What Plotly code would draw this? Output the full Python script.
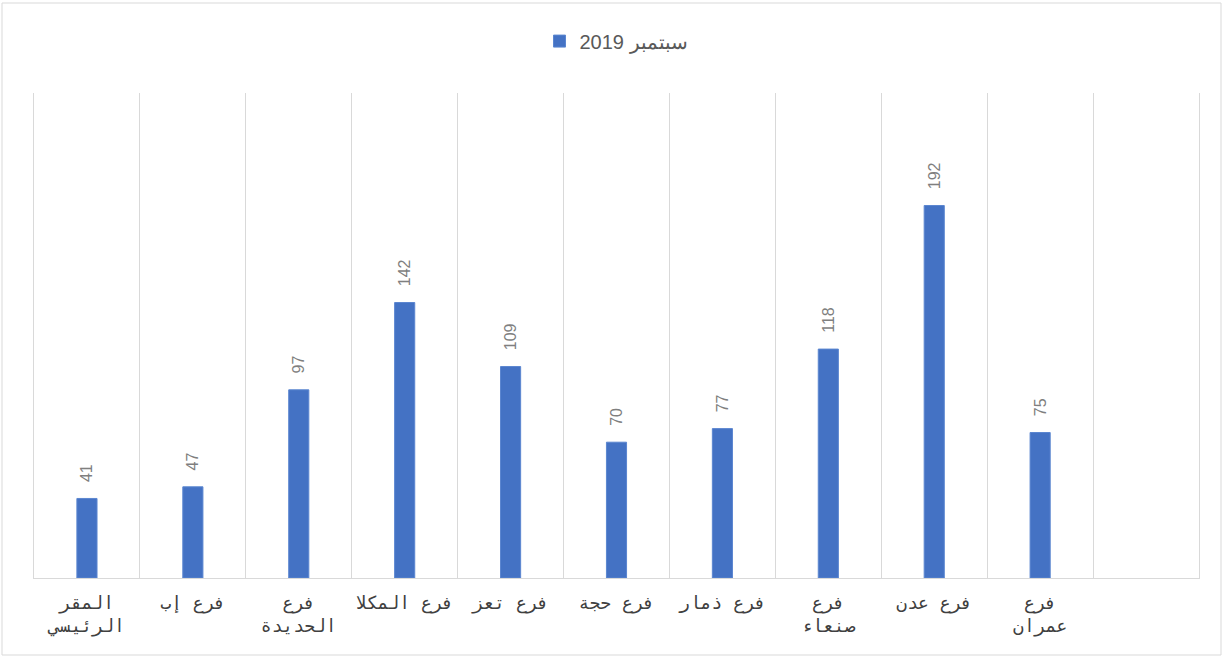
import plotly.graph_objects as go

categories = ["المقر<br>الرئيسي", "فرع إب", "فرع<br>الحديدة", "فرع المكلا", "فرع تعز",
              "فرع حجة", "فرع ذمار", "فرع<br>صنعاء", "فرع عدن", "فرع<br>عمران"]
values = [41, 47, 97, 142, 109, 70, 77, 118, 192, 75]
series_name = "2019 سبتمبر"
spacer = [" "]

fig = go.Figure()
fig.add_trace(go.Bar(
    x=categories, y=values, name=series_name,
    marker=dict(color="#4472C4", line=dict(color="#5B86D0", width=1)),
    width=0.19,
    text=["\u00a0\u00a0\u00a0" + str(v) for v in values], textposition="outside", textangle=-90,
    constraintext="none",
    textfont=dict(family="Liberation Sans, Arial", size=16, color="#7F7F7F"),
    cliponaxis=False,
))

fig.update_layout(
    width=1224, height=657,
    margin=dict(l=34, r=25, t=93, b=79),
    paper_bgcolor="white", plot_bgcolor="white",
    showlegend=True,
    legend=dict(orientation="h", x=0.5, xanchor="center", y=1.107, yanchor="middle",
                font=dict(family="Liberation Sans, Arial", size=20, color="#595959")),
    xaxis=dict(type="category", categoryorder="array", categoryarray=categories + spacer,
               range=[-0.5, 10.5], tickson="boundaries", showgrid=True,
               gridcolor="#D9D9D9", gridwidth=1, ticks="", showline=True,
               linecolor="#D9D9D9", linewidth=1, ticklabelstandoff=8,
               tickfont=dict(family="DejaVu Sans Mono", size=18, color="#404040")),
    yaxis=dict(range=[0, 250], showgrid=False, showticklabels=False, zeroline=False,
               ticks="", showline=True, mirror=True, linecolor="#D9D9D9", linewidth=1),
    shapes=[dict(type="rect", xref="paper", yref="paper",
                 x0=(2 - 34) / 1165, x1=(1221 - 34) / 1165,
                 y0=(578 - 655) / 485, y1=(578 - 3) / 485,
                 line=dict(color="#D9D9D9", width=1))],
)

fig.write_html("out.html", config={"displayModeBar": False},
               post_script="document.body.style.margin='0';")
